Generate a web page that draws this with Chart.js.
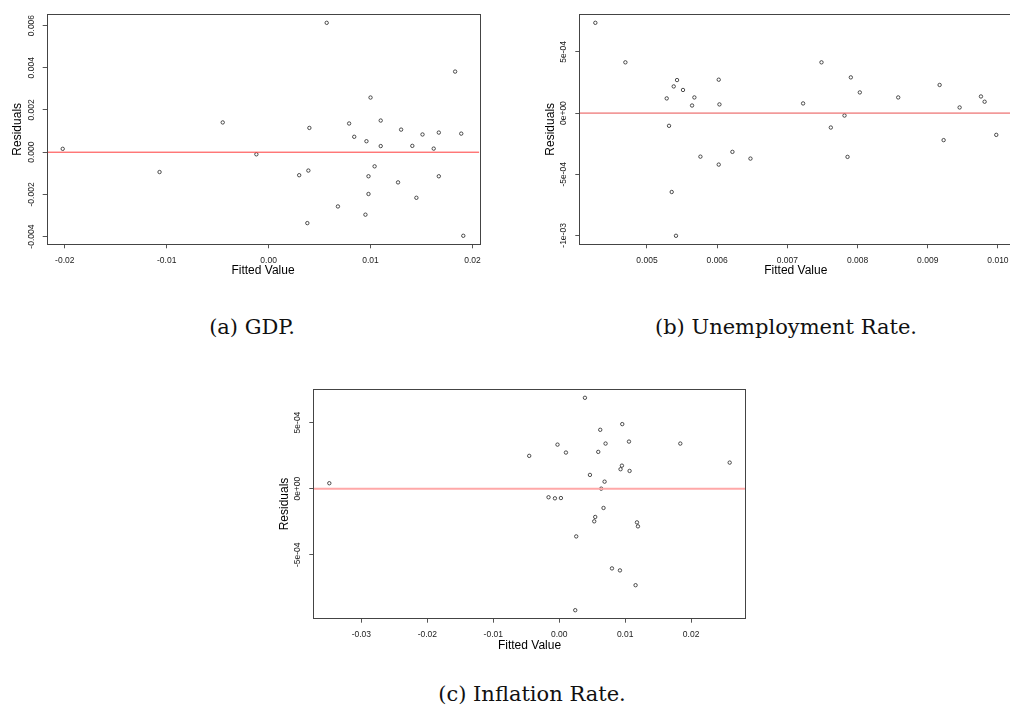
<!DOCTYPE html>
<html>
<head>
<meta charset="utf-8">
<script src="https://cdn.jsdelivr.net/npm/chart.js@4.4.1/dist/chart.umd.min.js"></script>
<style>
  html, body { margin: 0; padding: 0; background: #fff; }
  body { position: relative; width: 1010px; height: 713px; overflow: hidden; }
  canvas { position: absolute; }
  .caption {
    position: absolute;
    font-family: "DejaVu Serif", serif;
    font-size: 21px;
    line-height: 21px;
    color: #111;
    white-space: nowrap;
    transform: translateX(-50%);
  }
</style>
</head>
<body>
<canvas id="chart-gdp" width="500" height="290" style="left:0;top:0"></canvas>
<canvas id="chart-unemp" width="490" height="290" style="left:530px;top:0"></canvas>
<canvas id="chart-infl" width="500" height="290" style="left:270px;top:375px"></canvas>
<div class="caption" style="left:252px;top:317px">(a) GDP.</div>
<div class="caption" style="left:786px;top:317px">(b) Unemployment Rate.</div>
<div class="caption" style="left:532px;top:684px">(c) Inflation Rate.</div>

<script>
// residuals vs fitted values, one pair of arrays per model
const gdpFitted = [-0.0202, -0.0107, -0.0045, -0.0012, 0.0057, 0.0183, 0.0100, 0.0040, 0.0079, 0.0110, 0.0084, 0.0096, 0.0110, 0.0130, 0.0141, 0.0151, 0.0162, 0.0167, 0.0189, 0.0030, 0.0039, 0.0104, 0.0098, 0.0127, 0.0167, 0.0098, 0.0145, 0.0068, 0.0095, 0.0038, 0.0191];
const gdpResid = [0.00016, -0.00094, 0.00141, -0.00010, 0.00613, 0.00382, 0.00259, 0.00115, 0.00136, 0.00150, 0.00073, 0.00052, 0.00029, 0.00107, 0.00030, 0.00084, 0.00017, 0.00093, 0.00088, -0.00109, -0.00087, -0.00067, -0.00114, -0.00143, -0.00114, -0.00198, -0.00216, -0.00257, -0.00296, -0.00336, -0.00396];

const unempFitted = [0.004264, 0.004692, 0.005428, 0.005381, 0.005513, 0.005281, 0.005675, 0.005642, 0.006022, 0.006032, 0.005314, 0.005761, 0.006022, 0.006217, 0.006474, 0.005352, 0.005413, 0.007486, 0.007904, 0.008032, 0.007224, 0.008579, 0.009169, 0.009758, 0.009810, 0.009454, 0.007814, 0.007619, 0.007857, 0.009226, 0.009976];
const unempResid = [0.000738, 0.000415, 0.000270, 0.000218, 0.000189, 0.000120, 0.000128, 0.000062, 0.000273, 0.000071, -0.000104, -0.000356, -0.000421, -0.000317, -0.000372, -0.000645, -0.001003, 0.000415, 0.000292, 0.000169, 0.000079, 0.000128, 0.000230, 0.000136, 0.000093, 0.000046, -0.000020, -0.000118, -0.000358, -0.000221, -0.000178];

const inflFitted = [-0.03486, 0.0039, 0.00956, 0.00622, 0.01058, 0.01836, -0.00026, 0.00703, 0.00102, 0.00592, -0.00455, 0.02585, 0.00951, 0.0093, 0.01067, 0.00466, 0.00688, 0.00637, -0.00162, -0.00065, 0.00026, 0.00672, 0.00546, 0.00531, 0.01179, 0.01194, 0.00258, 0.0080, 0.00921, 0.01158, 0.00243];
const inflResid = [0.000041, 0.000687, 0.000488, 0.000445, 0.000356, 0.000341, 0.000333, 0.000341, 0.000273, 0.000278, 0.000248, 0.000197, 0.000174, 0.000147, 0.000134, 0.000104, 0.000053, 0.000000, -0.000065, -0.000073, -0.000071, -0.000146, -0.000214, -0.000247, -0.000255, -0.000285, -0.000361, -0.000603, -0.000618, -0.000730, -0.000919];

// axis ticks and their printed labels
const gdpXTicks = [-0.02, -0.01, 0, 0.01, 0.02];
const gdpXLabels = ["-0.02", "-0.01", "0.00", "0.01", "0.02"];
const gdpYTicks = [-0.004, -0.002, 0, 0.002, 0.004, 0.006];
const gdpYLabels = ["-0.004", "-0.002", "0.000", "0.002", "0.004", "0.006"];

const unempXTicks = [0.005, 0.006, 0.007, 0.008, 0.009, 0.010];
const unempXLabels = ["0.005", "0.006", "0.007", "0.008", "0.009", "0.010"];
const unempYTicks = [-0.001, -0.0005, 0, 0.0005];
const unempYLabels = ["-1e-03", "-5e-04", "0e+00", "5e-04"];

const inflXTicks = [-0.03, -0.02, -0.01, 0, 0.01, 0.02];
const inflXLabels = ["-0.03", "-0.02", "-0.01", "0.00", "0.01", "0.02"];
const inflYTicks = [-0.0005, 0, 0.0005];
const inflYLabels = ["-5e-04", "0e+00", "5e-04"];

const SANS = '"Liberation Sans", Arial, sans-serif';

// R-style limits: data range widened by 4% on each side
function paddedRange(arr) {
  const lo = Math.min(...arr), hi = Math.max(...arr);
  const pad = (hi - lo) * 0.04;
  return [lo - pad, hi + pad];
}

// plot frame, tick labels and axis titles
const framePlugin = {
  id: "frame",
  afterDraw(chart) {
    const { ctx, chartArea: a, scales } = chart;
    const o = chart.options.plugins.frame;
    ctx.save();
    ctx.strokeStyle = "#444";
    ctx.lineWidth = 1;
    ctx.strokeRect(Math.round(a.left) + 0.5, Math.round(a.top) + 0.5,
      Math.round(a.right - a.left), Math.round(a.bottom - a.top));

    ctx.fillStyle = "#222";
    ctx.font = "8.5px " + SANS;
    ctx.textAlign = "center";
    ctx.textBaseline = "middle";
    o.xTicks.forEach((v, i) => {
      ctx.fillText(o.xLabels[i], scales.x.getPixelForValue(v), a.bottom + 16.4);
    });
    o.yTicks.forEach((v, i) => {
      ctx.save();
      ctx.translate(a.left - 15.5, scales.y.getPixelForValue(v));
      ctx.rotate(-Math.PI / 2);
      ctx.fillText(o.yLabels[i], 0, 0);
      ctx.restore();
    });

    ctx.fillStyle = "#000";
    ctx.font = "12px " + SANS;
    ctx.fillText("Fitted Value", (a.left + a.right) / 2, a.bottom + 26.5);
    ctx.save();
    ctx.translate(a.left - 29, (a.top + a.bottom) / 2);
    ctx.rotate(-Math.PI / 2);
    ctx.fillText("Residuals", 0, 0);
    ctx.restore();
    ctx.restore();
  },
};

function residualPlot(id, fitted, resid, cfg) {
  const canvas = document.getElementById(id);
  const W = canvas.width, H = canvas.height;
  const [xMin, xMax] = paddedRange(fitted);
  const [yMin, yMax] = paddedRange(resid);
  const pts = fitted.map((f, i) => ({ x: f, y: resid[i] }));
  const grid = { drawOnChartArea: false, drawTicks: true, tickLength: 4, color: "#555", lineWidth: 1 };

  return new Chart(canvas, {
    type: "scatter",
    data: {
      datasets: [
        {
          type: "line",
          data: [{ x: xMin, y: 0 }, { x: xMax, y: 0 }],
          borderColor: cfg.lineColor,
          borderWidth: cfg.lineWidth,
          pointRadius: 0,
        },
        {
          data: pts,
          pointStyle: "circle",
          pointRadius: 1.7,
          pointBorderWidth: 0.8,
          pointBorderColor: "#222",
          pointBackgroundColor: "rgba(0,0,0,0)",
          pointHoverRadius: 1.7,
        },
      ],
    },
    options: {
      responsive: false,
      animation: false,
      devicePixelRatio: 1,
      layout: { padding: { left: 0, top: cfg.top, right: W - cfg.right, bottom: 0 } },
      plugins: {
        legend: { display: false },
        tooltip: { enabled: false },
        frame: { xTicks: cfg.xTicks, xLabels: cfg.xLabels, yTicks: cfg.yTicks, yLabels: cfg.yLabels },
      },
      scales: {
        x: {
          type: "linear",
          min: xMin,
          max: xMax,
          grid,
          border: { display: false },
          ticks: { display: false },
          afterBuildTicks: (s) => { s.ticks = cfg.xTicks.map((v) => ({ value: v })); },
          afterFit: (s) => { s.height = H - cfg.bottom; },
        },
        y: {
          type: "linear",
          min: yMin,
          max: yMax,
          grid,
          border: { display: false },
          ticks: { display: false },
          afterBuildTicks: (s) => { s.ticks = cfg.yTicks.map((v) => ({ value: v })); },
          afterFit: (s) => { s.width = cfg.left; },
        },
      },
    },
    plugins: [framePlugin],
  });
}

residualPlot("chart-gdp", gdpFitted, gdpResid, {
  left: 46.7, top: 14.3, right: 479.3, bottom: 244.3,
  lineColor: "#ff3a3a", lineWidth: 1,
  xTicks: gdpXTicks, xLabels: gdpXLabels, yTicks: gdpYTicks, yLabels: gdpYLabels,
});

residualPlot("chart-unemp", unempFitted, unempResid, {
  left: 49.3, top: 14.3, right: 482.3, bottom: 244.3,
  lineColor: "#e85050", lineWidth: 1,
  xTicks: unempXTicks, xLabels: unempXLabels, yTicks: unempYTicks, yLabels: unempYLabels,
});

residualPlot("chart-infl", inflFitted, inflResid, {
  left: 43.3, top: 14.3, right: 475.7, bottom: 243.7,
  lineColor: "#ffa8a8", lineWidth: 2,
  xTicks: inflXTicks, xLabels: inflXLabels, yTicks: inflYTicks, yLabels: inflYLabels,
});
</script>
</body>
</html>
